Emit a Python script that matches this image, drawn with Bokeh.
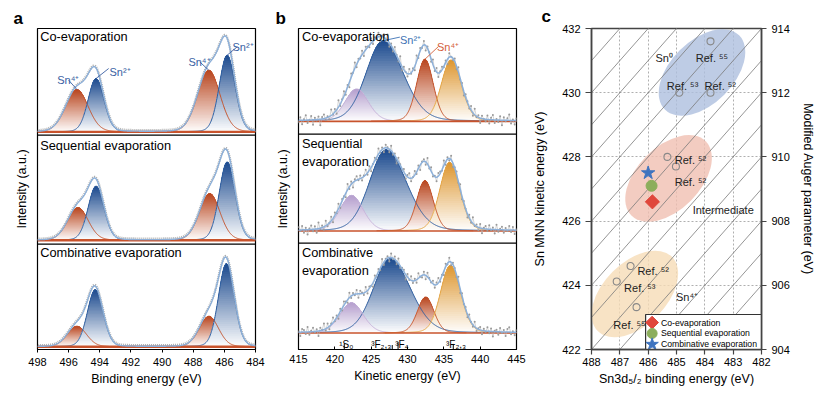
import numpy as np
from bokeh.plotting import figure
from bokeh.models import Range1d, LinearAxis, FixedTicker, Span, Label
from bokeh.layouts import row
from bokeh.embed import file_html
from bokeh.resources import INLINE

FONT = "Liberation Sans"

# ---------------- Panel a : Sn 3d XPS fits (heights in a.u.) ----------------
xps_titles = ["Co-evaporation", "Sequential evaporation", "Combinative evaporation"]
xps_state = ["Sn2+", "Sn4+", "Sn2+", "Sn4+"]
co_xps_center = [485.82, 487.00, 494.24, 495.47]
co_xps_height = [76.7, 61.7, 53.4, 42.4]
co_xps_fwhm = [1.20, 1.70, 1.20, 1.70]
seq_xps_center = [485.82, 486.94, 494.24, 495.40]
seq_xps_height = [78.3, 46.7, 54.0, 32.7]
seq_xps_fwhm = [1.20, 1.55, 1.20, 1.55]
comb_xps_center = [485.87, 486.99, 494.29, 495.47]
comb_xps_height = [83.0, 30.5, 57.0, 20.5]
comb_xps_fwhm = [1.20, 1.45, 1.20, 1.45]
xps_ticks = [498, 496, 494, 492, 490, 488, 486, 484]

# ---------------- Panel b : Sn MNN Auger fits ----------------
aes_titles = ["Co-evaporation", "Sequential\nevaporation", "Combinative\nevaporation"]
aes_state = ["Sn2+", "1S0", "Sn4+", "3F"]
co_aes_center = [426.6, 423.0, 432.4, 436.0]
co_aes_height = [81.3, 32.7, 62.7, 62.0]
seq_aes_center = [427.05, 422.3, 432.4, 435.8]
seq_aes_height = [82.0, 36.0, 51.0, 69.4]
comb_aes_center = [427.6, 422.3, 432.5, 435.9]
comb_aes_height = [75.0, 30.7, 36.4, 68.4]
aes_fwhm_low = [5.4, 3.8, 2.7, 3.2]
aes_fwhm_high = [6.6, 3.8, 2.7, 3.3]
co_aes_noise = [-2, 3, -4, 1, 5, -3, 0, 4, -5, 2, -1, 3, -6, 2, 4, -2, 1, -3, 6, -1, 3, -4, 7, -2, 1, 5, -3, 2, -5, 4,
                0, 6, -3, 2, -1, 4, -4, 3, 1, -2, 5, -3, 2, -1, 4, -5, 1, 3, -2, 6, -4, 2, -3, 5, 1, -2, 7, -4, 3, 0,
                -3, 5, -1, 2, -4, 6, -2, 3, -1, 4, -5, 2, 1, -3, 5, -2, 4, -4, 1, 3, -1, 2, -5, 4, 0, -2, 3, -3, 5, -1,
                2, -4, 3, 1, -2, 4, -3, 6, -1, 2, -5, 3, 0, -2, 4, -4, 2, 5, -3, 1, -2, 4, -5, 3, -1, 2, 6, -3, 1, -4, 2]
seq_aes_noise = [3, -1, 4, -3, 2, -5, 1, 4, -2, 3, -4, 6, -1, 2, -3, 5, -2, 0, 4, -4, 3, -1, 5, -3, 2, 1, -4, 6, -2, 3,
                 -5, 2, 4, -1, 3, -3, 1, 5, -2, 4, -4, 0, 3, -2, 6, -1, 2, -4, 3, 1, -3, 5, -2, 2, -5, 4, 1, -1, 3, -4,
                 2, 5, -3, 0, 4, -2, 3, -5, 1, 2, -3, 6, -1, 4, -2, 1, -4, 3, 2, -1, 5, -3, 2, -2, 4, -4, 1, 3, -1, 5,
                 -3, 2, 0, -4, 3, -2, 6, -1, 2, -3, 4, -5, 1, 3, -2, 4, -1, 2, -4, 5, -2, 1, 3, -3, 2, -1, 4, -2, 3, -4, 1]
comb_aes_noise = [1, -4, 3, 2, -2, 5, -3, 1, 4, -1, 2, -5, 3, 0, 6, -2, 4, -3, 1, 5, -1, 2, -4, 3, -2, 4, 1, -3, 5, -2,
                  2, -1, 4, -4, 3, 1, -2, 5, -3, 2, 0, -4, 4, -1, 3, -2, 6, -3, 1, 2, -4, 4, -1, 3, -3, 5, -2, 1, 2, -5,
                  3, -1, 4, -2, 2, -3, 5, 0, -2, 3, -4, 4, 1, -1, 3, -3, 2, 5, -2, 1, -4, 3, -1, 4, -3, 2, 1, -2, 5, -4,
                  3, -1, 2, -3, 4, 0, -2, 5, -3, 1, 3, -4, 2, -1, 4, -2, 3, -5, 1, 2, -3, 4, -1, 2, -4, 3, 5, -2, 1, -3, 2]
aes_ticks = [415, 420, 425, 430, 435, 440, 445]
term_names = ["¹S₀", "³F₂,₃", "³F₄", "³F₂,₃"]
term_ke = [421.3, 427.9, 428.7, 436.3]

# ---------------- Panel c : Wagner plot ----------------
ref_be = [483.8, 484.9, 483.8, 485.32, 485.02, 486.62, 487.11, 486.41]
ref_ke = [431.6, 430.0, 430.0, 428.0, 427.7, 424.6, 424.12, 423.32]
ref_no = ["55", "53", "52", "52", "52", "52", "53", "55"]
sample_names = ["Co-evaporation", "Sequential evaporation", "Combinative evaporation"]
sample_be = [485.85, 485.88, 486.0]
sample_ke = [426.6, 427.1, 427.5]
region_names = ["Sn⁰", "Intermediate", "Sn⁴⁺"]
region_be = [484.1, 485.28, 486.47]
region_ke = [430.63, 427.33, 423.73]
be_ticks = [488, 487, 486, 485, 484, 483, 482]
ke_ticks = [422, 424, 426, 428, 430, 432]
aug_ticks = [904, 906, 908, 910, 912, 914]
aug_lines = [905, 906, 907, 908, 909, 910, 911, 912, 913, 914, 915, 916, 917, 918, 919]

# ---------------- styles ----------------
STATE_COL = {
    "Sn2+": ("#1c4a8e", "#2d5d9f"),
    "Sn4+": ("#b8451e", "#c4532b"),
    "1S0": ("#b49ecd", "#c2b0d8"),
    "3F": ("#dd962f", "#e4a545"),
}
C_ENV = "#8cb0da"
C_DATA = "#9a9a9a"
C_BASE = "#c8532c"


def mix(hexc, t):
    r, g, b = int(hexc[1:3], 16), int(hexc[3:5], 16), int(hexc[5:7], 16)
    r = round(255 + (r - 255) * t)
    g = round(255 + (g - 255) * t)
    b = round(255 + (b - 255) * t)
    return "#%02x%02x%02x" % (r, g, b)


def peak(x, c, h, wl, wh, eta):
    w = np.where(x < c, wl, wh)
    d = (x - c) / w
    return h * ((1 - eta) * np.exp(-4 * np.log(2) * d * d) + eta / (1 + 4 * d * d))


def grad_fill(p, x, y, base, color, n=24):
    H = y.max() - base
    for k in range(n):
        lvl = base + H * k / n
        m = y > lvl + 0.15
        if m.sum() < 2:
            continue
        xs = x[m].astype(np.float32)
        ys = y[m].astype(np.float32)
        p.varea(x=xs, y1=np.full(len(xs), lvl, dtype=np.float32), y2=ys,
                fill_color=mix(color, (k + 0.6) / n))


def style_frame(p, col="black", w=1.2):
    p.xgrid.visible = False
    p.ygrid.visible = False
    p.outline_line_color = col
    p.outline_line_width = w
    p.outline_line_alpha = 1.0
    p.background_fill_color = "white"
    p.border_fill_color = "white"
    for ax in p.axis:
        ax.major_label_text_font = FONT
        ax.major_label_text_font_size = "11px"
        ax.major_label_text_color = "black"
        ax.axis_label_text_font = FONT
        ax.axis_label_text_font_size = "12.5px"
        ax.axis_label_text_font_style = "normal"
        ax.axis_label_text_color = "black"
        ax.minor_tick_line_color = None


def panel_letter(p, letter, offset, standoff):
    p.title.text = letter
    p.title.align = "left"
    p.title.offset = offset
    p.title.standoff = standoff
    p.title.text_font = FONT
    p.title.text_font_size = "17px"
    p.title.text_font_style = "bold"
    p.title.text_color = "black"


def add_text(p, x, y, text, size="12px", color="black", baseline="alphabetic", align="left"):
    p.add_layout(Label(x=x, y=y, text=text, text_font=FONT,
                       text_font_size=size, text_color=color, text_baseline=baseline, text_align=align))


# ======================= Panel a =======================
pa = figure(width=270, height=388, x_range=Range1d(498, 484), y_range=Range1d(0, 321),
            output_backend="svg", toolbar_location=None,
            min_border_left=37, min_border_right=15, min_border_top=28, min_border_bottom=39)
style_frame(pa)
panel_letter(pa, "a", -24, 2)
pa.xaxis.ticker = FixedTicker(ticks=xps_ticks)
pa.xaxis.axis_label = "Binding energy (eV)"
pa.xaxis.major_tick_out = 3
pa.xaxis.major_tick_in = 0
pa.xaxis.major_label_standoff = 5
pa.xaxis.axis_label_standoff = 3
pa.yaxis.ticker = FixedTicker(ticks=[])
pa.yaxis.axis_label = "Intensity (a.u.)"
pa.yaxis.major_tick_out = 0
pa.yaxis.major_label_standoff = 0
pa.yaxis.axis_label_standoff = 9
pa.yaxis.axis_line_color = None

xa = np.arange(484.0, 498.0001, 0.025)
a_sets = [(co_xps_center, co_xps_height, co_xps_fwhm),
          (seq_xps_center, seq_xps_height, seq_xps_fwhm),
          (comb_xps_center, comb_xps_height, comb_xps_fwhm)]
a_base = [217.6, 109.3, 2.8]
a_title_y = [320.3, 211.3, 104.3]
for (cen, hei, fw), base, ty, title in zip(a_sets, a_base, a_title_y, xps_titles):
    comps = [base + peak(xa, c, h, w, w, 0.1) for c, h, w in zip(cen, hei, fw)]
    order = [1, 3, 0, 2]
    for i in order:
        grad_fill(pa, xa, comps[i], base, STATE_COL[xps_state[i]][0], n=40)
    for i in order:
        m = comps[i] > base + 0.3
        pa.line(xa[m], comps[i][m], line_color=STATE_COL[xps_state[i]][1], line_width=1.0)
    pa.line([xa.min(), xa.max()], [base, base], line_color=C_BASE, line_width=2.4)
    env = base + sum(c - base for c in comps)
    pa.line(xa, env + 1.0, line_color=C_DATA, line_width=2.4, line_dash="1 1", line_alpha=0.8)
    pa.line(xa, env, line_color=C_ENV, line_width=1.4)
    add_text(pa, 497.83, ty, title, size="12.8px", baseline="top")

for y in [105.3, 214.3]:
    pa.add_layout(Span(location=y, dimension="width", line_color="black", line_width=1.2))

# Sn labels on top spectrum (leader ends at fitted peak tops)
b0 = a_base[0]
a_lbl = [("Sn⁴⁺", 496.73, 269.3, 3, (496.0, 269.3)),
         ("Sn²⁺", 493.38, 277.3, 2, (493.43, 281.0)),
         ("Sn⁴⁺", 488.31, 287.3, 1, (487.58, 287.6)),
         ("Sn²⁺", 485.48, 302.8, 0, (485.18, 302.6))]
for txt, lx, ly, ci, (sx, sy) in a_lbl:
    col = "#d0583f" if "4" in txt else "#3a5fa3"
    add_text(pa, lx, ly, txt, size="11px", color=col)
    pa.segment(x0=[sx], y0=[sy], x1=[co_xps_center[ci]], y1=[b0 + co_xps_height[ci]],
               line_color=col, line_width=0.9)

# ======================= Panel b =======================
pb = figure(width=260, height=388, x_range=Range1d(415, 445), y_range=Range1d(0, 324),
            output_backend="svg", toolbar_location=None,
            min_border_left=28, min_border_right=14, min_border_top=28, min_border_bottom=36)
style_frame(pb)
panel_letter(pb, "b", -23, 2)
pb.xaxis.ticker = FixedTicker(ticks=aes_ticks)
pb.xaxis.axis_label = "Kinetic energy (eV)"
pb.xaxis.major_tick_out = 0
pb.xaxis.major_tick_in = 3
pb.xaxis.major_label_standoff = 5
pb.xaxis.axis_label_standoff = 3
pb.yaxis.ticker = FixedTicker(ticks=[])
pb.yaxis.axis_label = "Intensity (a.u.)"
pb.yaxis.major_tick_out = 0
pb.yaxis.major_label_standoff = 0
pb.yaxis.axis_label_standoff = 9
pb.yaxis.axis_line_color = None

xb = np.arange(415.0, 445.0001, 0.05)
b_sets = [(co_aes_center, co_aes_height, co_aes_noise),
          (seq_aes_center, seq_aes_height, seq_aes_noise),
          (comb_aes_center, comb_aes_height, comb_aes_noise)]
b_base = [230.3, 119.6, 16.6]
b_title_y = [324.0, 215.3, 105.3]
for (cen, hei, noise), base, ty, title in zip(b_sets, b_base, b_title_y, aes_titles):
    comps = [base + peak(xb, c, h, wl, wh, 0.15)
             for c, h, wl, wh in zip(cen, hei, aes_fwhm_low, aes_fwhm_high)]
    for i in range(4):
        grad_fill(pb, xb, comps[i], base, STATE_COL[aes_state[i]][0], n=32)
    for i in range(4):
        m = comps[i] > base + 0.3
        pb.line(xb[m], comps[i][m], line_color=STATE_COL[aes_state[i]][1], line_width=1.0)
    pb.line([xb.min(), xb.max()], [base, base], line_color=C_BASE, line_width=1.6)
    xd = np.linspace(415, 445, len(noise))
    yd = base + sum(peak(xd, c, h, wl, wh, 0.15)
                    for c, h, wl, wh in zip(cen, hei, aes_fwhm_low, aes_fwhm_high)) + np.array(noise)
    pb.line(xd, yd, line_color="#b8b8b8", line_width=0.6)
    pb.scatter(xd, yd, size=2.0, color="#9a9a9a", line_width=0)
    env = base + sum(c - base for c in comps)
    pb.line(xb, env, line_color=C_ENV, line_width=1.5)
    add_text(pb, 415.47, ty, title, size="12.8px", baseline="top")

for y in [107.3, 217.3]:
    pb.add_layout(Span(location=y, dimension="width", line_color="black", line_width=1.2))

bb = b_base[0]
add_text(pb, 428.97, 312.3, "Sn²⁺", size="11px", color="#3e73b5")
pb.segment(x0=[428.95], y0=[315.3], x1=[co_aes_center[0]], y1=[bb + co_aes_height[0]],
           line_color="#3e73b5", line_width=0.9)
add_text(pb, 434.05, 305.3, "Sn⁴⁺", size="11px", color="#d4603c")
pb.segment(x0=[434.23], y0=[305.6], x1=[co_aes_center[2]], y1=[bb + co_aes_height[2]],
           line_color="#d4603c", line_width=0.9)

term_h = [5.6, 4.5, 7.3, 5.6]
pb.segment(x0=term_ke, y0=[0, 0, 0, 0], x1=term_ke, y1=term_h, line_color="black", line_width=1.0)
term_lx = [420.6, 425.0, 428.3, 435.3]
for t, lx in zip(term_names, term_lx):
    add_text(pb, lx, 5.3, t, size="10px")

# ======================= Panel c =======================
pc = figure(width=287, height=388, x_range=Range1d(488, 482), y_range=Range1d(422, 432),
            output_backend="svg", toolbar_location=None,
            min_border_left=58, min_border_right=52, min_border_top=26, min_border_bottom=39)
pc.extra_y_ranges = {"aug": Range1d(904, 914)}
pc.add_layout(LinearAxis(y_range_name="aug", axis_label="Modified Auger parameter (eV)",
                         ticker=FixedTicker(ticks=aug_ticks)), "right")
style_frame(pc, col="#444444", w=1.5)
panel_letter(pc, "c", -50, 5)
pc.xgrid.visible = True
pc.ygrid.visible = True
for g in (pc.xgrid[0], pc.ygrid[0]):
    g.grid_line_color = "#9a9a9a"
    g.grid_line_dash = "2 2"
    g.grid_line_width = 0.8
pc.xaxis.ticker = FixedTicker(ticks=be_ticks)
pc.xaxis.axis_label = "Sn3d₅/₂ binding energy (eV)"
pc.xaxis.major_tick_out = 5
pc.xaxis.major_label_standoff = 3
pc.xaxis.axis_label_standoff = 3
pc.yaxis[0].ticker = FixedTicker(ticks=ke_ticks)
pc.yaxis[0].axis_label = "Sn MNN kinetic energy (eV)"
pc.yaxis[0].major_tick_out = 6
pc.yaxis[0].major_label_standoff = 5
pc.yaxis[0].axis_label_standoff = 12
pc.yaxis[1].major_tick_out = 5
pc.yaxis[1].major_label_standoff = 5
pc.yaxis[1].axis_label_standoff = 8
for ax in pc.axis:
    ax.major_tick_in = 0
    ax.axis_line_color = "#444444"
    ax.axis_line_width = 1.5
    ax.major_tick_line_color = "#444444"
    ax.major_tick_line_width = 1.2

pc.ellipse(x=region_be, y=region_ke, width=105, height=63, angle=45, angle_units="deg",
           width_units="screen", height_units="screen",
           fill_color=["#aebfdf", "#f0bfb1", "#f6dcb6"], fill_alpha=0.8, line_color=None)
pc.segment(x0=[488] * len(aug_lines), y0=[a - 488 for a in aug_lines],
           x1=[482] * len(aug_lines), y1=[a - 482 for a in aug_lines],
           line_color="#7a7a7a", line_width=0.8)
pc.scatter(ref_be, ref_ke, marker="circle", size=7, fill_color=None, line_color="#888888", line_width=1.1)
s_marker = ["square", "circle", "star"]
s_angle = [45, 0, 0]
s_size = [10, 11, 14]
s_color = ["#e0463b", "#8cae5c", "#3f74bf"]
for i in range(3):
    pc.scatter([sample_be[i]], [sample_ke[i]], marker=s_marker[i], size=s_size[i], color=s_color[i],
               angle=s_angle[i], angle_units="deg")

c_lbl = [(region_names[0], 485.74, 431.09),
         ("Ref. ⁵⁵", 484.32, 431.09), ("Ref. ⁵³", 485.34, 430.22), ("Ref. ⁵²", 484.01, 430.22),
         ("Ref. ⁵²", 485.06, 427.90), ("Ref. ⁵²", 485.06, 427.23),
         (region_names[1], 484.43, 426.36),
         ("Ref. ⁵²", 486.38, 424.45), ("Ref. ⁵³", 486.85, 423.93), ("Ref. ⁵⁵", 487.23, 422.77),
         (region_names[2], 485.02, 423.62)]
for t, lx, ly in c_lbl:
    add_text(pc, lx, ly, t, size="11px", color="#222222")

# legend box (keys drawn with the same marker styles as the samples)
leg_l, leg_r, leg_b, leg_t = 486.09, 482.0, 422.0, 423.09
key_x, text_x = 485.86, 485.55
row_y = [422.84, 422.50, 422.16]
pc.quad(left=[leg_l], right=[leg_r], bottom=[leg_b], top=[leg_t], fill_color="white",
        line_color="#333333", line_width=1.2)
for i in range(3):
    pc.scatter([key_x], [row_y[i]], marker=s_marker[i], size=s_size[i] - 1, color=s_color[i],
               angle=s_angle[i], angle_units="deg")
    add_text(pc, text_x, row_y[i], sample_names[i], size="8.7px", baseline="middle")

layout = row(pa, pb, pc)
open("out.html", "w").write(file_html(layout, INLINE))
